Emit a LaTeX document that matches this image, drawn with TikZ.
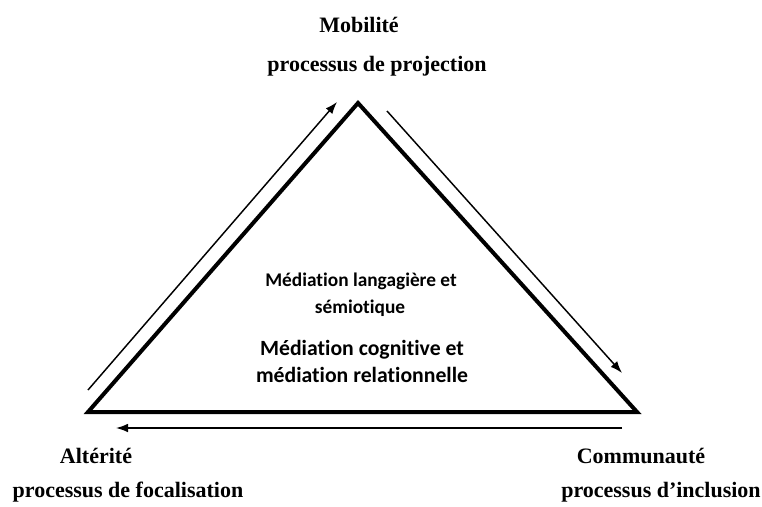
\documentclass[tikz,border=0pt]{standalone}
\usepackage{fontspec}
\setmainfont{Liberation Serif}
\newfontfamily\calib[Ligatures={NoCommon,NoRequired}]{Carlito}
\usetikzlibrary{arrows.meta}
\begin{document}
\begin{tikzpicture}[x=0.75pt,y=-0.75pt,
  pole/.style={font=\fontsize{16.5}{20}\selectfont\bfseries, anchor=base, inner sep=0pt},
  medsmall/.style={font=\calib\fontsize{14.5}{17}\selectfont\bfseries, anchor=base, inner sep=0pt},
  medbig/.style={font=\calib\fontsize{16.3}{19}\selectfont\bfseries, anchor=base, inner sep=0pt},
  side/.style={line width=3pt, line join=miter},
  flow/.style={line width=1.1pt, -{Latex[length=9pt,width=6.5pt]}}]
\useasboundingbox (0,0) rectangle (762,506);
\coordinate (top) at (358,103);
\coordinate (left) at (88,412);
\coordinate (right) at (637,412);
\draw[side] (left) -- (top) -- (right) -- cycle;
\coordinate (a0) at (88,390);
\coordinate (a1) at (337,102);
\draw[flow] (a0) -- (a1);
\coordinate (b0) at (387,111);
\coordinate (b1) at (622,373);
\draw[flow] (b0) -- (b1);
\coordinate (c0) at (622,428);
\coordinate (c1) at (116,428);
\draw[flow] (c0) -- (c1);
\node[pole] (mob) at (359,33) {Mobilité};
\node[pole] (proj) at (377,72) {processus de projection};
\node[pole] (alt) at (96,463) {Altérité};
\node[pole] (foc) at (128,497) {processus de focalisation};
\node[pole] (com) at (641,463) {Communauté};
\node[pole] (incl) at (661,497) {processus d’inclusion};
\node[medsmall] (lang) at (361,286) {Médiation langagière et};
\node[medsmall] (semio) at (360,313) {sémiotique};
\node[medbig] (cogn) at (362,355) {Médiation cognitive et};
\node[medbig] (rel) at (362,382) {médiation relationnelle};
\end{tikzpicture}
\end{document}
